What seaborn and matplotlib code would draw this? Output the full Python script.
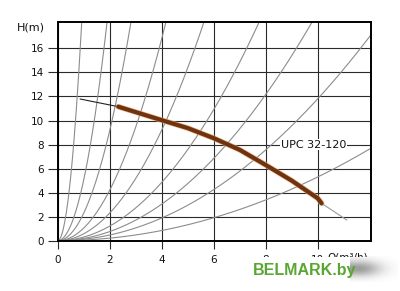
import numpy as np
import matplotlib
matplotlib.use("Agg")
import matplotlib.pyplot as plt
import seaborn as sns
from matplotlib.patches import Rectangle

# ---- data ----
x_ticks = [0, 2, 4, 6, 8, 10]
y_ticks = [0, 2, 4, 6, 8, 10, 12, 14, 16]
# system curves H = k * Q^2 (coefficients read from where they cross the frame)
system_k = [21.3, 5.05, 2.29, 1.05, 0.575, 0.303, 0.19, 0.118, 0.053]
# pump curve
lead_q = [0.86, 2.33]
lead_h = [11.79, 11.15]
pump_q = [2.33, 3, 4, 5, 6, 7, 8, 9, 10, 10.15]
pump_h = [11.15, 10.7, 10.03, 9.37, 8.53, 7.56, 6.3, 5.0, 3.53, 3.11]
tail_q = [10.15, 11.12]
tail_h = [3.11, 1.72]
model_label = "UPC 32-120"
y_label = "H(m)"
x_label = "Q(m³/h)"
watermark = "BELMARK.by"

sns.set_theme(style="white")
plt.rcParams['font.family'] = ['DejaVu Sans']

W, H = 400, 291
fig = plt.figure(figsize=(4, 2.91), dpi=100)
ax = fig.add_axes([57.7 / W, 50.3 / H, (371 - 57.7) / W, (240.7 - 22.3) / H])
ax.set_xlim(0, 12.05)
ax.set_ylim(0, 18.17)

q = np.linspace(0, 12.05, 400)
for k in system_k:
    sns.lineplot(x=q, y=k * q ** 2, ax=ax, color='#8c8c8c', lw=0.8,
                 estimator=None, sort=False, zorder=2)

sns.lineplot(x=lead_q, y=lead_h, ax=ax, color='#222222', lw=0.8,
             estimator=None, sort=False, zorder=3)
sns.lineplot(x=tail_q, y=tail_h, ax=ax, color='#9a9a9a', lw=0.8,
             estimator=None, sort=False, zorder=3)
sns.lineplot(x=pump_q, y=pump_h, ax=ax, color='#e9a46a', lw=4.0,
             estimator=None, sort=False, zorder=4, alpha=0.8)
sns.lineplot(x=pump_q, y=pump_h, ax=ax, color='#6e3310', lw=3.0,
             estimator=None, sort=False, zorder=5)

ax.text(8.58, 8.0, model_label, fontsize=8, ha='left', va='center',
        color='#111111', zorder=6,
        bbox=dict(fc='white', ec='none', pad=0.6))

ax.set_xticks(x_ticks)
ax.set_yticks(y_ticks)
ax.set_xticklabels([str(v) for v in x_ticks])
ax.set_yticklabels([str(v) for v in y_ticks])
ax.grid(True, color='#2a2a2a', lw=0.8, zorder=1)
ax.set_axisbelow(True)
ax.tick_params(axis='both', which='major', direction='out', length=7,
               width=0.8, color='#2a2a2a', labelsize=7.5, pad=3,
               labelcolor='#111111', bottom=True, left=True)
ax.tick_params(axis='x', length=6, pad=4)
for s in ax.spines.values():
    s.set_visible(True)
    s.set_color('black')
    s.set_linewidth(1.4)
ax.set_xlabel('')
ax.set_ylabel('')
ax.set_facecolor('white')

fig.text(44.5 / W, 1 - 28 / H, y_label, ha='right', va='center',
         fontsize=8, color='#111111')
fig.text(327 / W, 1 - 258 / H, x_label, ha='left', va='center',
         fontsize=7.5, color='#111111')

# watermark block
fig.add_artist(Rectangle((235 / W, 1 - 287 / H), (376 - 235) / W, (287 - 256.5) / H,
                         transform=fig.transFigure, fc='white', ec='none', zorder=10))
sh = fig.add_axes([350 / W, 1 - 282 / H, 48 / W, 26 / H], zorder=11)
yy, xx = np.mgrid[0:26, 0:48]
a = np.exp(-((xx - 8) / 22.0) ** 2) * np.exp(-((yy - 12) / 8.0) ** 2) * 0.7
a[:, :8] = np.exp(-((yy[:, :8] - 12) / 8.0) ** 2) * 0.7
img = np.zeros((26, 48, 4))
img[..., :3] = 0.45
img[..., 3] = a
sh.imshow(img, aspect='auto', interpolation='bilinear')
sh.axis('off')
fig.text(253 / W, 1 - 270 / H, watermark, ha='left', va='center',
         fontsize=11.5, fontweight='bold', family=['Liberation Sans'],
         color='#5aa632', zorder=12)

fig.savefig('out.png', dpi=100, facecolor='white')
